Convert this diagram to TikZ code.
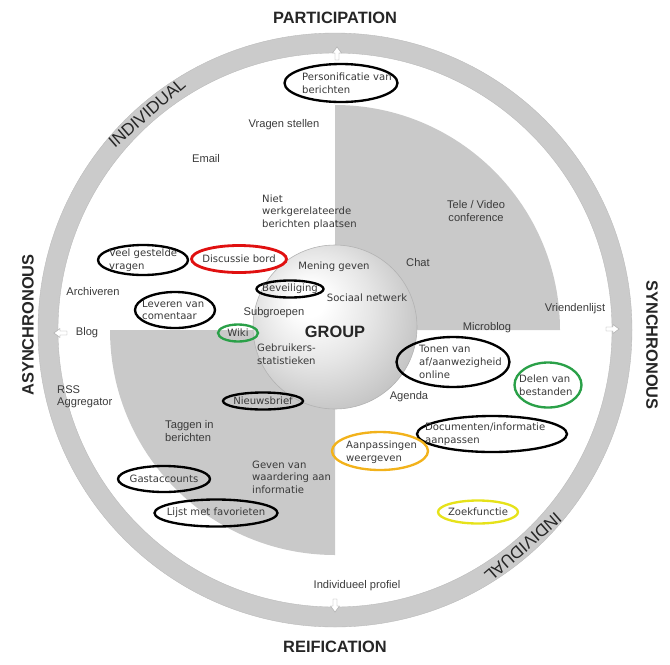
\documentclass[tikz,border=0pt]{standalone}
\usepackage{fontspec}
\setmainfont{Liberation Sans}
\newfontfamily\vfont{DejaVu Sans}
\usetikzlibrary{shapes.geometric}
\definecolor{txt}{HTML}{3A3A3A}
\definecolor{titlec}{HTML}{262626}
\definecolor{ringgray}{HTML}{CBCBCB}
\definecolor{quadgray}{HTML}{C9C9C9}
\definecolor{annred}{HTML}{E01010}
\definecolor{anngreen}{HTML}{2AA048}
\definecolor{annorange}{HTML}{F2B21B}
\definecolor{annyellow}{HTML}{E6E21A}
\pgfdeclareradialshading{sphereshade}{\pgfpoint{-9bp}{9bp}}{color(0bp)=(white); color(5bp)=(white); color(17bp)=(gray!20); color(26bp)=(gray!38); color(33bp)=(gray!52); color(50bp)=(gray!52)}
\begin{document}
\begin{tikzpicture}[x=0.03cm,y=-0.03cm,
  lbl/.style={text=txt, font=\fontsize{9.5}{10.5}\selectfont, inner sep=0pt, align=center},
  vlbl/.style={text=txt, font=\vfont\fontsize{8.6}{10.8}\selectfont, inner sep=0pt, align=left},
  title/.style={text=titlec, font=\bfseries\fontsize{14}{16}\selectfont, inner sep=0pt},
  ringlbl/.style={text=titlec, font=\fontsize{14.5}{15}\selectfont, inner sep=0pt},
  ann/.style n args={3}{ellipse, draw=#1, line width=2pt, minimum width=#2*0.03cm, minimum height=#3*0.03cm, inner sep=0pt},
  ringarrow/.style={draw=gray!70, fill=white, line width=0.4pt, line join=miter}]
\useasboundingbox (0,0) rectangle (670,664);
\coordinate (C) at (335,330);
% outer ring
\fill[ringgray, even odd rule] (C) circle[radius=297] (C) circle[radius=277];
\draw[gray!55, line width=0.3pt] (C) circle[radius=297] (C) circle[radius=277];
% gray quadrants
\fill[quadgray] (C) -- ++(0,-225) arc[start angle=-90, end angle=0, radius=225] -- cycle;
\fill[quadgray] (C) -- ++(-225,0) arc[start angle=180, end angle=90, radius=225] -- cycle;
% central sphere
\shade[shading=sphereshade] (335,327) circle[radius=82];
\draw[gray!60, line width=0.5pt] (335,327) circle[radius=82];
% ring arrows
\draw[ringarrow] (335,60)--(335,53)--(332.5,53)--(337,47)--(341.5,53)--(339,53)--(339,60)--cycle;
\draw[ringarrow] (333,599)--(333,606)--(330.5,606)--(335,612)--(339.5,606)--(337,606)--(337,599)--cycle;
\draw[ringarrow] (67,331)--(60,331)--(60,328.5)--(54,333)--(60,337.5)--(60,335)--(67,335)--cycle;
\draw[ringarrow] (606,327)--(613,327)--(613,324.5)--(619,329)--(613,333.5)--(613,331)--(606,331)--cycle;
% ring texts
\node[ringlbl, rotate=41] (rIndA) at (147,113) {INDIVIDUAL};
\node[ringlbl, rotate=221] (rIndB) at (523,547) {INDIVIDUAL};
% titles
\node[title] (tPart) at (335,18) {PARTICIPATION};
\node[title] (tReif) at (335,647) {REIFICATION};
\node[title, rotate=90] (tAsync) at (28,325) {ASYNCHRONOUS};
\node[title, rotate=-90] (tSync) at (652,345) {SYNCHRONOUS};
\node[title] (tGroup) at (335,332) {GROUP};
% plain labels
\node[lbl] (lVragen) at (284,125) {Vragen stellen};
\node[lbl] (lEmail) at (206,159) {Email};
\node[lbl] (lTele) at (476,211) {Tele / Video\\conference};
\node[lbl] (lChat) at (418,263) {Chat};
\node[lbl] (lArch) at (93,292) {Archiveren};
\node[lbl] (lBlog) at (87,333) {Blog};
\node[lbl, anchor=west, align=left] (lRss) at (57,397) {RSS\\Aggregator};
\node[lbl] (lSub) at (274,313) {Subgroepen};
\node[lbl] (lMicro) at (487,328) {Microblog};
\node[lbl] (lVriend) at (575,309) {Vriendenlijst};
\node[lbl] (lAgenda) at (409,397) {Agenda};
\node[lbl, anchor=west, align=left] (lTaggen) at (165,431) {Taggen in\\berichten};
\node[lbl] (lIndiv) at (357,586) {Individueel profiel};
\node[vlbl, anchor=west] (lNiet) at (262,212) {Niet\\werkgerelateerde\\berichten plaatsen};
\node[vlbl] (lMening) at (334,267) {Mening geven};
\node[vlbl] (lSociaal) at (367,298) {Sociaal netwerk};
\node[vlbl, anchor=west] (lGebr) at (257,354) {Gebruikers-\\statistieken};
\node[vlbl, anchor=west] (lGeven) at (252,477) {Geven van\\waardering aan\\informatie};
% annotated labels
\node[ann={black}{113}{38}] (ePers) at (341,83) {};
\node[vlbl, anchor=west] (lPers) at (302,83) {Personificatie van\\berichten};
\node[ann={annred}{95}{27}, line width=2.4pt] (eDisc) at (239,259) {};
\node[vlbl] (lDisc) at (eDisc) {Discussie bord};
\node[ann={black}{90}{30}] (eVeel) at (143,260) {};
\node[vlbl, anchor=west] (lVeel) at (109,260) {Veel gestelde\\vragen};
\node[ann={black}{80}{36}] (eLev) at (175,310) {};
\node[vlbl, anchor=west] (lLev) at (142,310) {Leveren van\\comentaar};
\node[ann={black}{67}{17}] (eBev) at (290,289) {};
\node[vlbl] (lBev) at (eBev) {Beveiliging};
\node[ann={anngreen}{40}{17}] (eWiki) at (238,333) {};
\node[vlbl] (lWiki) at (eWiki) {Wiki};
\node[ann={black}{113}{50}] (eTonen) at (453,362) {};
\node[vlbl, anchor=west] (lTonen) at (419,362) {Tonen van\\af/aanwezigheid\\online};
\node[ann={anngreen}{67}{45}] (eDelen) at (548,385) {};
\node[vlbl, anchor=west] (lDelen) at (519,385) {Delen van\\bestanden};
\node[ann={black}{150}{36}] (eDoc) at (492,434) {};
\node[vlbl, anchor=west] (lDoc) at (425,434) {Documenten/informatie\\aanpassen};
\node[ann={black}{80}{17}] (eNieuws) at (263,401) {};
\node[vlbl] (lNieuws) at (eNieuws) {Nieuwsbrief};
\node[ann={annorange}{96}{38}] (eAanp) at (380,451) {};
\node[vlbl, anchor=west] (lAanp) at (346,452) {Aanpassingen\\weergeven};
\node[ann={black}{92}{26}] (eGast) at (164,479) {};
\node[vlbl] (lGast) at (eGast) {Gastaccounts};
\node[ann={black}{123}{27}] (eLijst) at (216,513) {};
\node[vlbl] (lLijst) at (eLijst) {Lijst met favorieten};
\node[ann={annyellow}{80}{23}] (eZoek) at (478,512) {};
\node[vlbl] (lZoek) at (eZoek) {Zoekfunctie};
\end{tikzpicture}
\end{document}
